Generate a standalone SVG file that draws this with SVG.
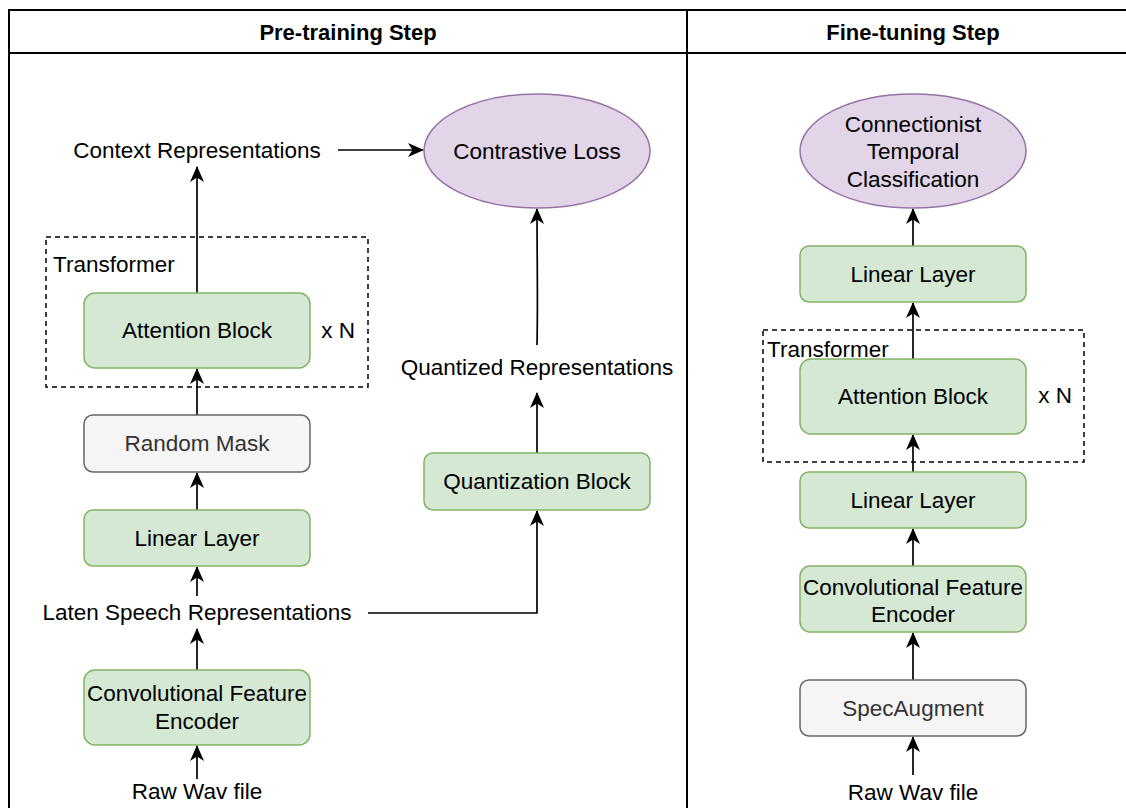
<svg xmlns="http://www.w3.org/2000/svg" width="1126" height="808" viewBox="0 0 1126 808">
<defs>
<style>
text{font-family:"Liberation Sans",Arial,sans-serif;font-size:22.5px;fill:#000;text-anchor:middle;dominant-baseline:central}
.hdr{font-weight:bold;font-size:22px}
.g{fill:#d5e8d4;stroke:#82b366;stroke-width:1.5}
.p{fill:#e1d5e7;stroke:#9673a6;stroke-width:1.5}
.gr{fill:#f5f5f5;stroke:#666666;stroke-width:1.5}
.grt{fill:#333333}
.dash{fill:none;stroke:#000;stroke-width:1.5;stroke-dasharray:5 4}
.frame{fill:none;stroke:#000;stroke-width:2}
.c{fill:none;stroke:#000;stroke-width:1.7;marker-end:url(#ah)}
</style>
<marker id="ah" viewBox="0 0 16 15" refX="15" refY="7.5" markerWidth="16" markerHeight="15" markerUnits="userSpaceOnUse" orient="auto">
<path d="M0,0.5 L16,7.5 L0,14.5 L4.5,7.5 z" fill="#000"/>
</marker>
</defs>
<rect width="1126" height="808" fill="#fff"/>
<g id="frame">
<rect class="frame" x="9" y="10" width="1130" height="810"/>
<line class="frame" x1="9" y1="53" x2="1126" y2="53"/>
<line class="frame" x1="687" y1="10" x2="687" y2="808"/>
<text class="hdr" x="348" y="32">Pre-training Step</text>
<text class="hdr" x="913" y="32">Fine-tuning Step</text>
</g>
<g id="connectors">
<line class="c" x1="197" y1="293" x2="197" y2="167"/>
<line class="c" x1="338" y1="150" x2="423" y2="150"/>
<line class="c" x1="197" y1="415" x2="197" y2="369"/>
<line class="c" x1="197" y1="510" x2="197" y2="473"/>
<line class="c" x1="197" y1="596" x2="197" y2="567"/>
<line class="c" x1="197" y1="670" x2="197" y2="629"/>
<line class="c" x1="197" y1="779" x2="197" y2="746"/>
<polyline class="c" points="368,613 537,613 537,511"/>
<line class="c" x1="537" y1="453" x2="537" y2="393"/>
<path class="c" d="M537,345 C538,300 537,260 537,209"/>
<line class="c" x1="913" y1="246" x2="913" y2="209"/>
<line class="c" x1="913" y1="359" x2="913" y2="303"/>
<line class="c" x1="913" y1="472" x2="913" y2="435"/>
<line class="c" x1="913" y1="566" x2="913" y2="529"/>
<line class="c" x1="913" y1="680" x2="913" y2="633"/>
<line class="c" x1="913" y1="775" x2="913" y2="737"/>
</g>
<g id="context-representations"><text x="197" y="150">Context Representations</text></g>
<g id="contrastive-loss"><ellipse class="p" cx="537" cy="151" rx="113" ry="57"/><text x="537" y="151">Contrastive Loss</text></g>
<g id="transformer-pre"><rect class="dash" x="46" y="237" width="322" height="150"/><text x="53" y="264" style="text-anchor:start">Transformer</text><text x="338" y="330">x N</text></g>
<g id="attention-pre"><rect class="g" x="84" y="293" width="226" height="75" rx="11"/><text x="197" y="330">Attention Block</text></g>
<g id="random-mask"><rect class="gr" x="84" y="415" width="226" height="57" rx="9"/><text class="grt" x="197" y="443">Random Mask</text></g>
<g id="linear-pre"><rect class="g" x="84" y="510" width="226" height="56" rx="9"/><text x="197" y="538">Linear Layer</text></g>
<g id="laten"><text x="197" y="612">Laten Speech Representations</text></g>
<g id="conv-pre"><rect class="g" x="84" y="670" width="226" height="75" rx="11"/><text x="197" y="693">Convolutional Feature</text><text x="197" y="721">Encoder</text></g>
<g id="raw-pre"><text x="197" y="791">Raw Wav file</text></g>
<g id="quantized-representations"><text x="537" y="367">Quantized Representations</text></g>
<g id="quantization-block"><rect class="g" x="424" y="453" width="226" height="57" rx="9"/><text x="537" y="481">Quantization Block</text></g>
<g id="ctc"><ellipse class="p" cx="913" cy="151" rx="113" ry="57"/><text x="913" y="124">Connectionist</text><text x="913" y="151">Temporal</text><text x="913" y="179">Classification</text></g>
<g id="linear-ft-top"><rect class="g" x="800" y="246" width="226" height="56" rx="9"/><text x="913" y="274">Linear Layer</text></g>
<g id="transformer-ft"><rect class="dash" x="763" y="330" width="321" height="132"/><text x="767" y="349" style="text-anchor:start">Transformer</text><text x="1055" y="395">x N</text></g>
<g id="attention-ft"><rect class="g" x="800" y="359" width="226" height="75" rx="11"/><text x="913" y="396">Attention Block</text></g>
<g id="linear-ft-bottom"><rect class="g" x="800" y="472" width="226" height="56" rx="9"/><text x="913" y="500">Linear Layer</text></g>
<g id="conv-ft"><rect class="g" x="800" y="566" width="226" height="66" rx="10"/><text x="913" y="587">Convolutional Feature</text><text x="913" y="614">Encoder</text></g>
<g id="specaugment"><rect class="gr" x="800" y="680" width="226" height="56" rx="9"/><text class="grt" x="913" y="708">SpecAugment</text></g>
<g id="raw-ft"><text x="913" y="792">Raw Wav file</text></g>
</svg>
